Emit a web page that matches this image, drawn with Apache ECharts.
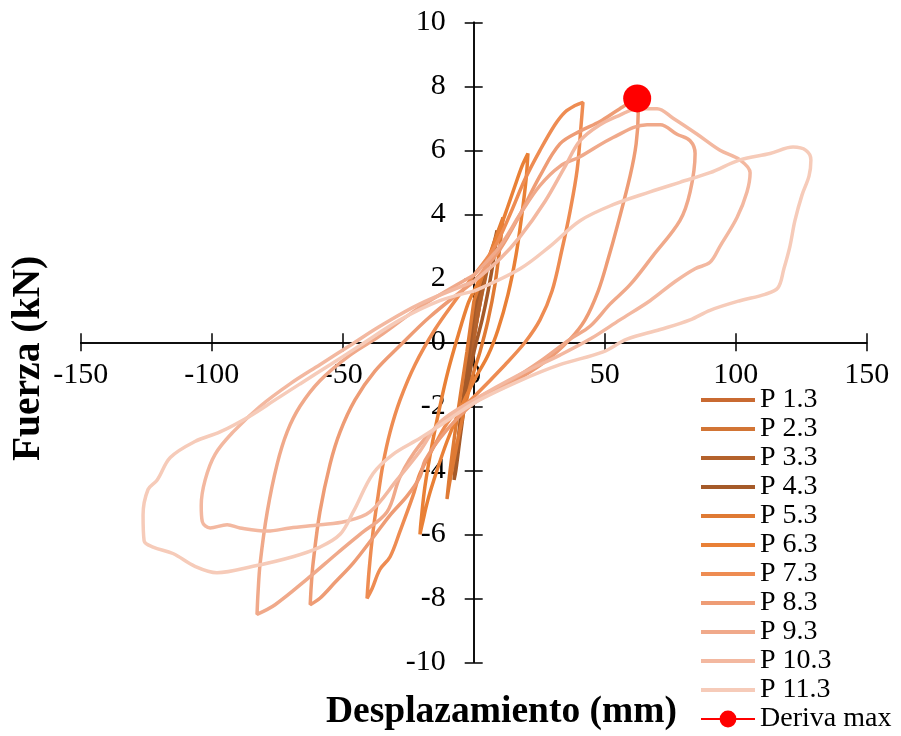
<!DOCTYPE html>
<html>
<head>
<meta charset="utf-8">
<script src="https://cdn.jsdelivr.net/npm/echarts@6/dist/echarts.min.js"></script>
<style>
  html, body { margin: 0; padding: 0; background: #fff; }
  #chart { width: 901px; height: 736px; }
</style>
</head>
<body>
<div id="chart"></div>
<script>
// Hysteresis cycles: [displacement (mm), force (kN)]
const p1_3 = [[0.1,0.5],[1.5,1.0],[2.4,1.3],[1.5,0.8],[0.1,0.1],[-1.2,-0.6],[-2.2,-1.2],[-1.6,-0.8],[-0.6,-0.2],[0.1,0.5]];
const p2_3 = [[0.1,0.5],[2.4,1.4],[4.3,2.1],[2.6,1.3],[0.1,0.2],[-2.2,-0.8],[-4.1,-1.8],[-3.0,-1.2],[-1.4,-0.4],[0.1,0.5]];
const p3_3 = [[0.1,0.7],[3.9,1.9],[6.2,2.7],[4.7,2.1],[2.4,1.2],[0.1,0.2],[-2.2,-0.9],[-4.1,-2.0],[-5.6,-2.9],[-4.9,-2.3],[-2.9,-1.2],[-1.4,-0.3],[0.1,0.7]];
const p4_3 = [[0.1,1.0],[4.3,2.3],[7.4,3.0],[8.9,3.5],[7.8,2.7],[5.5,1.6],[3.2,0.7],[0.1,-0.3],[-2.6,-1.5],[-4.9,-2.8],[-6.8,-4.0],[-7.5,-4.3],[-6.4,-3.4],[-4.5,-2.1],[-2.6,-0.9],[0.1,1.0]];
const p5_3 = [[0.1,1.3],[4.3,2.3],[8.1,3.2],[11.2,3.9],[10.0,3.0],[8.1,1.8],[5.5,0.7],[2.4,-0.3],[0.1,-0.9],[-3.3,-2.0],[-6.4,-3.2],[-9.0,-4.3],[-10.2,-4.9],[-9.0,-4.0],[-7.1,-2.8],[-4.8,-1.5],[-2.6,-0.3],[0.1,1.3]];
const p6_3 = [[0.1,1.6],[6.2,2.7],[12.0,4.0],[15.8,4.9],[18.4,5.5],[20.7,5.9],[20.0,5.1],[18.4,4.0],[16.1,2.7],[13.1,1.5],[9.3,0.4],[5.5,-0.4],[0.1,-1.2],[-5.2,-2.1],[-10.2,-3.1],[-14.0,-4.0],[-17.4,-4.9],[-19.7,-5.7],[-20.5,-6.0],[-20.1,-5.6],[-18.6,-4.5],[-15.9,-3.2],[-12.9,-2.0],[-9.8,-0.9],[-6.0,0.2],[-2.2,1.2],[0.1,1.6]];
const p7_3 = [[0.1,2.1],[8.1,3.0],[13.9,4.0],[19.6,5.1],[25.3,6.0],[31.0,6.8],[34.9,7.2],[38.7,7.4],[41.7,7.5],[41.0,6.8],[39.5,5.4],[36.8,4.1],[33.7,2.9],[29.9,1.6],[25.3,0.7],[19.6,0.0],[12.0,-0.7],[0.1,-1.7],[-9.0,-2.4],[-14.8,-3.2],[-20.5,-4.1],[-23.2,-4.8],[-28.1,-5.9],[-31.9,-6.7],[-35.8,-7.1],[-38.8,-7.7],[-40.7,-8.0],[-39.9,-7.1],[-38.4,-5.9],[-36.5,-4.8],[-34.6,-3.8],[-31.9,-2.8],[-28.1,-1.8],[-22.4,-0.7],[-14.8,0.4],[-7.1,1.3],[0.1,2.1]];
const p8_3 = [[0.1,1.9],[10.0,2.9],[17.7,4.0],[25.3,5.2],[32.9,6.2],[40.6,6.6],[48.2,6.9],[55.8,7.3],[62.4,7.6],[62.8,7.2],[62.0,6.2],[59.7,5.2],[54.7,3.6],[51.3,2.6],[47.5,1.6],[42.5,0.7],[36.8,0.1],[27.3,-0.6],[13.9,-1.3],[0.1,-1.9],[-10.9,-2.8],[-18.6,-3.7],[-20.5,-4.2],[-25.4,-4.8],[-31.9,-5.4],[-38.4,-6.1],[-46.0,-6.9],[-52.9,-7.5],[-58.7,-8.0],[-62.4,-8.2],[-62.0,-7.6],[-61.3,-6.9],[-58.7,-5.3],[-54.8,-3.8],[-51.0,-2.8],[-45.3,-1.8],[-37.7,-0.9],[-28.1,-0.1],[-16.7,0.8],[0.1,1.9]];
const p9_3 = [[0.1,2.1],[10.0,3.0],[17.7,4.0],[25.3,4.9],[32.9,5.5],[40.6,5.8],[53.2,6.4],[66.2,6.8],[71.2,6.8],[77.6,6.5],[82.6,6.3],[84.5,5.9],[82.6,4.7],[78.7,3.8],[68.4,2.7],[59.7,1.8],[52.1,1.2],[44.4,0.5],[36.8,0.1],[25.3,-0.6],[13.9,-1.2],[0.1,-1.8],[-10.9,-2.4],[-20.5,-3.2],[-28.1,-4.2],[-33.1,-5.3],[-43.4,-6.0],[-52.2,-6.6],[-63.6,-7.4],[-75.8,-8.2],[-82.7,-8.5],[-82.3,-7.8],[-81.5,-6.9],[-78.8,-5.3],[-75.0,-3.8],[-71.2,-2.8],[-66.3,-2.0],[-58.7,-1.2],[-47.2,-0.4],[-35.8,0.2],[-20.5,1.1],[0.1,2.1]];
const p10_3 = [[0.1,1.9],[10.0,2.6],[17.7,3.3],[27.2,4.4],[34.9,5.5],[40.6,6.3],[48.2,6.8],[55.8,7.1],[62.4,7.3],[70.0,7.3],[76.1,7.0],[85.3,6.5],[94.0,6.0],[101.6,5.7],[105.5,5.3],[104.3,4.7],[100.5,3.9],[94.0,3.0],[90.2,2.5],[84.5,2.3],[76.9,1.9],[67.3,1.3],[55.8,0.7],[44.4,0.1],[32.9,-0.4],[17.7,-1.0],[0.1,-1.8],[-12.9,-2.5],[-20.5,-3.4],[-29.3,-4.3],[-39.6,-5.3],[-49.1,-5.6],[-58.7,-5.7],[-70.1,-5.8],[-78.8,-5.9],[-89.2,-5.8],[-94.1,-5.7],[-100.6,-5.8],[-103.6,-5.6],[-104.0,-5.1],[-102.5,-4.3],[-98.7,-3.5],[-91.8,-2.8],[-81.5,-2.0],[-70.1,-1.3],[-58.7,-0.7],[-47.2,-0.1],[-35.8,0.5],[-20.5,1.2],[0.1,1.9]];
const p11_3 = [[0.1,1.6],[17.7,2.3],[29.1,3.0],[40.6,3.8],[53.2,4.3],[67.3,4.7],[78.7,5.0],[90.2,5.3],[101.6,5.7],[113.1,5.9],[121.9,6.1],[126.8,6.0],[128.7,5.7],[128.0,5.2],[125.3,4.6],[122.6,3.8],[120.7,3.0],[118.4,2.3],[116.1,1.7],[111.2,1.5],[101.6,1.3],[90.2,1.0],[82.6,0.7],[71.2,0.4],[58.5,0.1],[49.4,-0.3],[32.9,-0.7],[17.7,-1.2],[0.1,-1.9],[-12.9,-2.6],[-20.5,-3.0],[-30.8,-3.5],[-38.4,-4.1],[-46.0,-5.3],[-51.0,-6.0],[-58.7,-6.4],[-69.0,-6.7],[-84.2,-7.0],[-98.0,-7.2],[-106.4,-7.0],[-114.8,-6.6],[-122.4,-6.4],[-125.8,-6.2],[-126.2,-5.4],[-124.3,-4.6],[-120.8,-4.3],[-115.8,-3.6],[-106.4,-3.1],[-96.8,-2.8],[-85.3,-2.3],[-75.8,-1.8],[-66.3,-1.3],[-54.8,-0.7],[-43.4,-0.1],[-28.1,0.7],[-12.9,1.3],[0.1,1.6]];
const derivaMax = [[62.4, 7.62]];

const cycleNames = ['P 1.3','P 2.3','P 3.3','P 4.3','P 5.3','P 6.3','P 7.3','P 8.3','P 9.3','P 10.3','P 11.3'];
const cycles = [p1_3, p2_3, p3_3, p4_3, p5_3, p6_3, p7_3, p8_3, p9_3, p10_3, p11_3];
const cycleColors = ['#c96a31','#d27535','#b4622c','#a55a29','#df7a34','#e98036','#ee8c52','#ee9c75','#f0a98a','#f3b8a0','#f6cbb9'];

const xRange = { min: -150, max: 150, step: 50 };
const yRange = { min: -10, max: 10, step: 2 };

// plot frame (px)
const frame = { left: 80.7, right: 866.7, top: 22.3, bottom: 662.3 };
const W = 901, H = 736;
const zeroX = frame.left + (0 - xRange.min) / (xRange.max - xRange.min) * (frame.right - frame.left);
const zeroY = frame.top + (yRange.max - 0) / (yRange.max - yRange.min) * (frame.bottom - frame.top);

const serif = '"Liberation Serif", "Times New Roman", serif';
const axisLineStyle = { color: '#000', width: 1.5 };

// Axes are shifted onto the zero lines; a twin pair carries the other half of the crossing ticks.
function valueAxis(range, extra) {
  return Object.assign({
    type: 'value', min: range.min, max: range.max, interval: range.step,
    splitLine: { show: false },
    axisLine: { show: true, onZero: false, lineStyle: axisLineStyle },
    axisTick: { show: true, length: 9, lineStyle: axisLineStyle }
  }, extra);
}

const series = cycles.map((d, i) => ({
  name: cycleNames[i], type: 'line', data: d, xAxisIndex: 0, yAxisIndex: 0,
  smooth: 0.35, symbol: 'none', showSymbol: false,
  lineStyle: { color: cycleColors[i], width: 3.5 }, itemStyle: { color: cycleColors[i] },
  z: 2 + i
}));
series.push({
  name: 'Deriva max', type: 'line', data: derivaMax, xAxisIndex: 0, yAxisIndex: 0,
  symbol: 'circle', symbolSize: 28, showSymbol: true,
  lineStyle: { color: '#ff0000', width: 3.5 }, itemStyle: { color: '#ff0000' },
  z: 20
});

// plain line swatch for the cycle entries
const lineIcon = 'path://M0,0L0.01,0M0,6L54,6L54,10L0,10ZM0,16L0.01,16';

const chart = echarts.init(document.getElementById('chart'), null, { renderer: 'canvas' });
chart.setOption({
  animation: false,
  backgroundColor: '#fff',
  grid: { left: frame.left, right: W - frame.right, top: frame.top, bottom: H - frame.bottom,
          containLabel: false, outerBoundsMode: 'none' },
  xAxis: [
    valueAxis(xRange, { position: 'bottom', offset: -(frame.bottom - zeroY),
      axisLabel: { fontFamily: serif, fontSize: 30, color: '#000', margin: 18 } }),
    valueAxis(xRange, { position: 'top', offset: -(zeroY - frame.top), axisLabel: { show: false } })
  ],
  yAxis: [
    valueAxis(yRange, { position: 'left', offset: -(zeroX - frame.left),
      axisLabel: { fontFamily: serif, fontSize: 30, color: '#000', margin: 28 } }),
    valueAxis(yRange, { position: 'right', offset: -(frame.right - zeroX), axisLabel: { show: false } })
  ],
  legend: {
    orient: 'vertical', left: 700, top: 386, padding: 0, height: 350,
    itemWidth: 54, itemHeight: 21, itemGap: 1,
    textStyle: { fontFamily: serif, fontSize: 28, color: '#000', lineHeight: 28 },
    data: cycleNames.map(n => ({ name: n, icon: lineIcon })).concat([{ name: 'Deriva max' }])
  },
  graphic: [
    { type: 'text', x: 501.5, y: 712,
      style: { text: 'Desplazamiento (mm)', font: 'bold 37.5px ' + serif, fill: '#000',
               align: 'center', verticalAlign: 'middle', textAlign: 'center', textVerticalAlign: 'middle' } },
    { type: 'text', x: 28.5, y: 358.5, rotation: Math.PI / 2,
      style: { text: 'Fuerza (kN)', font: 'bold 39.5px ' + serif, fill: '#000',
               align: 'center', verticalAlign: 'middle', textAlign: 'center', textVerticalAlign: 'middle' } }
  ],
  series: series
});
</script>
</body>
</html>
